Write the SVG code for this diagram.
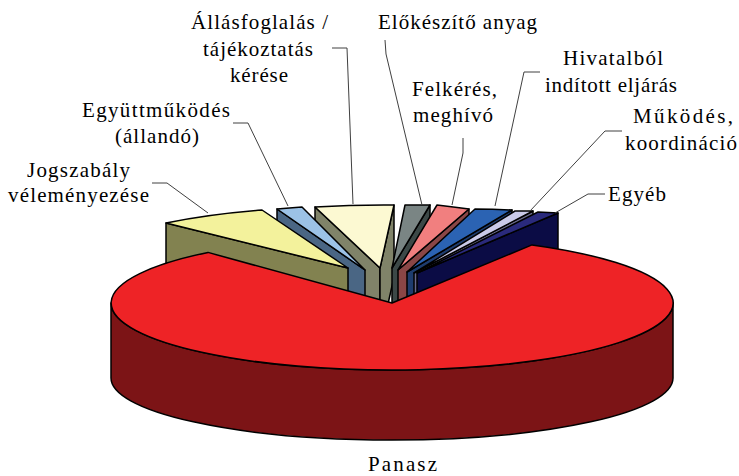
<svg xmlns="http://www.w3.org/2000/svg" width="739" height="476" viewBox="0 0 739 476">
<style>
.e{stroke:#000;stroke-width:1.5;stroke-linejoin:round}
.t{font-family:"Liberation Serif","Times New Roman",serif;font-size:21px;fill:#000;text-anchor:middle}
.l{fill:none;stroke:#404040;stroke-width:1}
</style>
<rect width="739" height="476" fill="#fff"/>
<g id="slice-allasfoglalas">
<path class="e" fill="#808369" d="M380,268 L315,207 L315,279 L380,340 Z"/>
<path class="e" fill="#808369" d="M380,268 L394,205 L394,277 L380,340 Z"/>
<path class="e" fill="#FCF9D2" d="M380,268 L315,207 A281,67 0 0 1 394,205 Z"/>
<text class="t" x="259.5" y="29" textLength="137" lengthAdjust="spacing">Állásfoglalás /</text>
<text class="t" x="258" y="55.5" textLength="110" lengthAdjust="spacing">tájékoztatás</text>
<text class="t" x="259" y="82" textLength="58" lengthAdjust="spacing">kérése</text>
</g>
<g id="slice-egyuttmukodes">
<path class="e" fill="#4A6684" d="M365,270 L277,209 L277,281 L365,342 Z"/>
<path class="e" fill="#9CC2E6" d="M365,270 L277,209 A281,67 0 0 1 302,207 Z"/>
<text class="t" x="156" y="117" textLength="148" lengthAdjust="spacing">Együttműködés</text>
<text class="t" x="157" y="143" textLength="84" lengthAdjust="spacing">(állandó)</text>
</g>
<g id="slice-jogszabaly">
<path class="e" fill="#828250" d="M348,268 L166,223 L166,295 L348,340 Z"/>
<path class="e" fill="#F3F29C" d="M348,268 L166,223 A281,67 0 0 1 262,210 Z"/>
<text class="t" x="78.5" y="177" textLength="103" lengthAdjust="spacing">Jogszabály</text>
<text class="t" x="78.5" y="202" textLength="141" lengthAdjust="spacing">véleményezése</text>
</g>
<g id="slice-elokeszito">
<path class="e" fill="#3C4847" d="M392,268 L430,205 L430,277 L392,340 Z"/>
<path class="e" fill="#7A8584" d="M392,268 L405,205 A281,67 0 0 1 430,205 Z"/>
<text class="t" x="457.5" y="29" textLength="159" lengthAdjust="spacing">Előkészítő anyag</text>
</g>
<g id="slice-felkeres">
<path class="e" fill="#8A4646" d="M398,270 L469,209 L469,281 L398,342 Z"/>
<path class="e" fill="#F17F7F" d="M398,270 L437,205 A281,67 0 0 1 469,209 Z"/>
<text class="t" x="454.5" y="96" textLength="85" lengthAdjust="spacing">Felkérés,</text>
<text class="t" x="453" y="122" textLength="80" lengthAdjust="spacing">meghívó</text>
</g>
<g id="slice-hivatalbol">
<path class="e" fill="#1E3C6E" d="M407,272 L512,210 L512,282 L407,344 Z"/>
<path class="e" fill="#2B63B3" d="M407,272 L475,209 A281,67 0 0 1 512,210 Z"/>
<text class="t" x="613" y="65" textLength="100" lengthAdjust="spacing">Hivatalból</text>
<text class="t" x="611" y="92" textLength="132" lengthAdjust="spacing">indított eljárás</text>
</g>
<g id="slice-mukodes">
<path class="e" fill="#6A6A8C" d="M414,273 L533,211 L533,283 L414,345 Z"/>
<path class="e" fill="#CACAE9" d="M414,273 L515,211 A281,67 0 0 1 533,211 Z"/>
<text class="t" x="683" y="123" textLength="100" lengthAdjust="spacing">Működés,</text>
<text class="t" x="681" y="150" textLength="112" lengthAdjust="spacing">koordináció</text>
</g>
<g id="slice-egyeb">
<path class="e" fill="#0B0C45" d="M417,273 L558,213 L558,285 L417,345 Z"/>
<path class="e" fill="#2A2A7C" d="M417,273 L538,212 A281,67 0 0 1 558,213 Z"/>
<text class="t" x="637" y="201" textLength="58" lengthAdjust="spacing">Egyéb</text>
</g>
<g id="slice-panasz">
<path class="e" fill="#7C1416" d="M111,303 A281,67 0 0 0 673,303 L673,378 A281,62 0 0 1 111,378 Z"/>
<path class="e" fill="#EE2326" d="M392,303 L208,252.4 A281,67 0 1 0 532,244.9 Z"/>
<text class="t" x="402.5" y="471" textLength="69" lengthAdjust="spacing">Panasz</text>
</g>
<g id="connectors">
<polyline class="l" points="152,183 167,183 208,213"/>
<polyline class="l" points="233,123 248,123 288,206"/>
<polyline class="l" points="332,48 347,48 353,204"/>
<polyline class="l" points="385,40 386,54 422,205"/>
<polyline class="l" points="463,138 463,153 452,205"/>
<polyline class="l" points="540,72 524,72 495,206"/>
<polyline class="l" points="622,131 605,131 530,211"/>
<polyline class="l" points="605,194 588,194 555,213"/>
</g>
</svg>
